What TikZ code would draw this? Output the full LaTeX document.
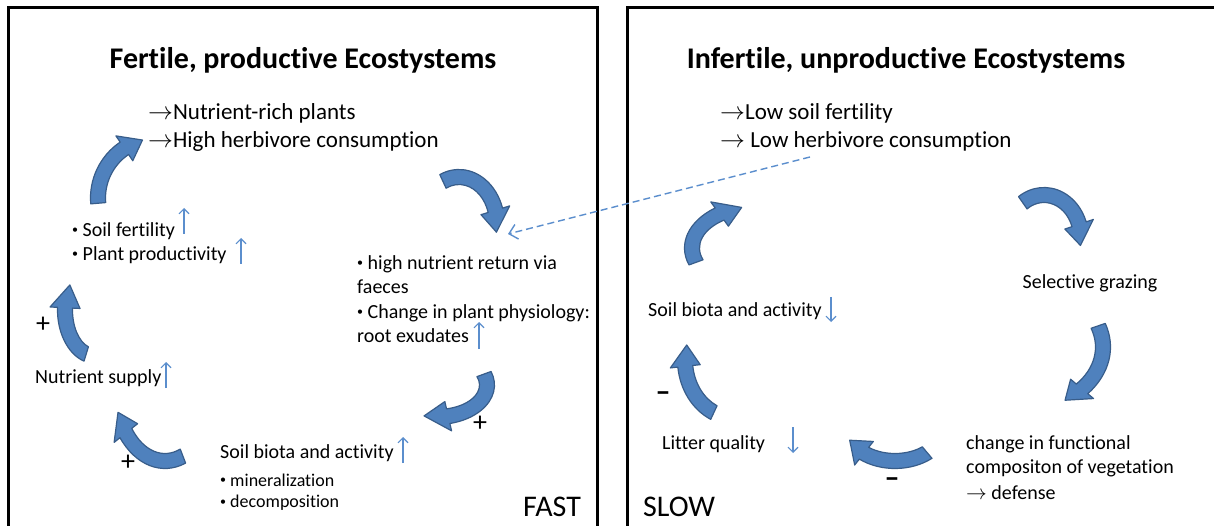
\documentclass[tikz,border=0pt]{standalone}
\usepackage{fontspec}
\setmainfont{Carlito}[Ligatures=NoCommon]
\usetikzlibrary{arrows.meta,calc}

\definecolor{loopfill}{RGB}{79,129,189}
\definecolor{loopedge}{RGB}{56,93,138}
\definecolor{trendblue}{RGB}{91,142,205}

\newcommand{\bul}{\raisebox{2.4pt}{\fontsize{12}{12}\selectfont •}}

\tikzset{
  boxline/.style={line width=3pt, line cap=rect},
  title/.style={font=\fontsize{30}{34}\selectfont\bfseries, inner sep=0pt},
  bigtext/.style={font=\fontsize{23}{27}\selectfont, anchor=west, inner sep=0pt},
  smalltext/.style={font=\fontsize{20}{24}\selectfont, anchor=west, inner sep=0pt},
  tinytext/.style={font=\fontsize{18}{21}\selectfont, anchor=west, inner sep=0pt},
  speed/.style={font=\fontsize{30}{34}\selectfont, anchor=west, inner sep=0pt},
  sign/.style={font=\fontsize{28}{30}\selectfont, inner sep=0pt},
  minus/.style={font=\fontsize{30}{32}\selectfont\bfseries, inner sep=0pt},
  trend/.style={draw=trendblue, line width=1.1pt, -{Straight Barb[length=5pt,width=10pt]}},
  dashlink/.style={draw=trendblue, line width=1.4pt, dash pattern=on 7pt off 4pt, -{Straight Barb[length=8pt,width=15pt]}},
  loopstyle/.style={fill=loopfill, draw=loopedge, line width=1.2pt, line join=round}
}

% curved block arrow: centre, x radius, y radius, tail angle, tip angle
\newcommand{\looparrow}[5]{
  \pgfmathsetmacro{\hb}{#5-20/((#2+#3)/2)*57.3}
  \pgfmathsetmacro{\oxr}{#2+7.5}\pgfmathsetmacro{\oyr}{#3+7.5}
  \pgfmathsetmacro{\ixr}{#2-7.5}\pgfmathsetmacro{\iyr}{#3-7.5}
  \pgfmathsetmacro{\hxo}{#2+15}\pgfmathsetmacro{\hyo}{#3+15}
  \pgfmathsetmacro{\hxi}{#2-15}\pgfmathsetmacro{\hyi}{#3-15}
  \filldraw[loopstyle] ($(#1)+({\oxr*cos(#4)},{\oyr*sin(#4)})$) arc[start angle=#4, end angle=\hb, x radius=\oxr, y radius=\oyr]
    -- ($(#1)+({\hxo*cos(\hb)},{\hyo*sin(\hb)})$) -- ($(#1)+({#2*cos(#5)},{#3*sin(#5)})$) -- ($(#1)+({\hxi*cos(\hb)},{\hyi*sin(\hb)})$)
    -- ($(#1)+({\ixr*cos(\hb)},{\iyr*sin(\hb)})$) arc[start angle=\hb, end angle=#4, x radius=\ixr, y radius=\iyr] -- cycle;
}

\begin{document}
\begin{tikzpicture}[x=1pt,y=-1pt]
	\clip (0,0) rectangle (1214,526);
	
	% the two panels
	\draw[boxline] (8.5,540) -- (8.5,7.5) -- (597,7.5) -- (597,540);
	\draw[boxline] (627,540) -- (627,7.5) -- (1230,7.5);
	
	% fertile side
	\node[title] (fertiletitle) at (303,60) {Fertile, productive Ecostystems};
	\node[bigtext] (richplants) at (148,113) {$\rightarrow$Nutrient-rich plants};
	\node[bigtext] (highherb) at (148,141) {$\rightarrow$High herbivore consumption};
	\node[smalltext] (soilfert) at (72,231) {\bul\ Soil fertility};
	\node[smalltext] (plantprod) at (72,255) {\bul\ Plant productivity};
	\node[smalltext] (nutreturn) at (357,264) {\bul\ high nutrient return via};
	\node[smalltext] (faeces) at (357,287) {faeces};
	\node[smalltext] (physiology) at (357,313) {\bul\ Change in plant physiology:};
	\node[smalltext] (exudates) at (357,336) {root exudates};
	\node[smalltext] (nutsupply) at (35,378) {Nutrient supply};
	\node[smalltext] (soilbiota) at (220,453) {Soil biota and activity};
	\node[tinytext] (mineral) at (220,480) {\bul\ mineralization};
	\node[tinytext] (decomp) at (220,503) {\bul\ decomposition};
	\node[speed] (fast) at (523,507) {FAST};
	
	\node[sign] (plusa) at (43,325) {+};
	\node[sign] (plusb) at (128,463) {+};
	\node[sign] (plusc) at (480,424) {+};
	
	\draw[trend] (184,234) -- (184,208);
	\draw[trend] (241,264) -- (241,238);
	\draw[trend] (166,388) -- (166,362);
	\draw[trend] (403,463) -- (403,437);
	\draw[trend] (479,349) -- (479,322);
	
	\coordinate (fc1) at (158,198);
	\coordinate (fc2) at (459,224);
	\coordinate (fc3) at (437,385);
	\coordinate (fc4) at (165,387);
	\coordinate (fc5) at (95,310);
	\looparrow{fc1}{60}{60}{175}{255}
	\looparrow{fc2}{38}{47}{-115}{10}
	\looparrow{fc3}{50}{32}{-20}{105}
	\looparrow{fc4}{50}{74}{69}{160}
	\looparrow{fc5}{30}{46}{107}{213}
	
	% infertile side
	\node[title] (infertiletitle) at (906,60) {Infertile, unproductive Ecostystems};
	\node[bigtext] (lowfert) at (720,113) {$\rightarrow$Low soil fertility};
	\node[bigtext] (lowherb) at (720,141) {$\rightarrow$ Low herbivore consumption};
	\node[smalltext, anchor=center] (grazing) at (1090,283) {Selective grazing};
	\node[smalltext] (soilbiotaslow) at (648,311) {Soil biota and activity};
	\node[smalltext] (litter) at (662,444) {Litter quality};
	\node[smalltext] (functional) at (966,444) {change in functional};
	\node[smalltext] (vegetation) at (966,468) {compositon of vegetation};
	\node[smalltext] (defense) at (966,493) {$\rightarrow$ defense};
	\node[speed] (slow) at (643,507) {SLOW};
	
	\node[minus] (minusa) at (663,397) {–};
	\node[minus] (minusb) at (892,483) {–};
	
	\draw[trend] (831,297) -- (831,322);
	\draw[trend] (793,427) -- (793,453);
	
	\coordinate (sc1) at (759,248);
	\coordinate (sc2) at (1044,238);
	\coordinate (sc3) at (1014,347);
	\coordinate (sc4) at (895,425);
	\coordinate (sc5) at (735,360);
	\looparrow{sc1}{67}{42}{160}{255}
	\looparrow{sc2}{37}{43}{-125}{10}
	\looparrow{sc3}{89}{65}{-19}{55}
	\looparrow{sc4}{50}{36}{50}{155}
	\looparrow{sc5}{50}{58}{115}{195}
	
	% link between the two sides
	\coordinate (dashstart) at (810,157);
	\coordinate (dashend) at (508,234);
	\draw[dashlink] (dashstart) -- (dashend);
\end{tikzpicture}
\end{document}
